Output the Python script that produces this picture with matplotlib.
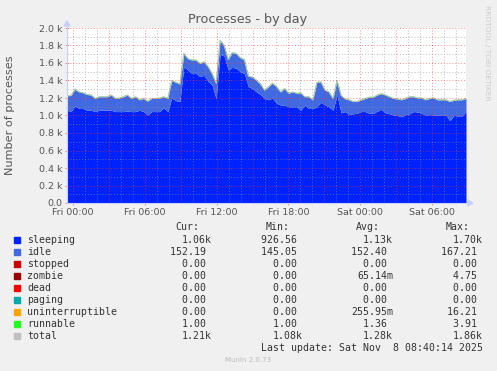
import numpy as np
from matplotlib import pyplot as plt

W, H = 497, 371

# samples every ~20 min (Thu 23:30 .. Sat 08:45)
total = [1225, 1230, 1300, 1270, 1260, 1240, 1235, 1195, 1215, 1215, 1215, 1235, 1195,
         1200, 1215, 1235, 1195, 1215, 1180, 1195, 1165, 1195, 1195, 1200, 1215,
         1195, 1400, 1380, 1360, 1710, 1650, 1635, 1635, 1595, 1615, 1560, 1480, 1370,
         1860, 1800, 1640, 1720, 1710, 1660, 1640, 1450, 1440, 1405, 1360, 1290,
         1330, 1370, 1330, 1270, 1310, 1255, 1270, 1255, 1260, 1215, 1215, 1180, 1380,
         1385, 1290, 1270, 1195, 1400, 1230, 1190, 1180, 1160, 1160, 1180, 1195,
         1210, 1210, 1235, 1250, 1235, 1215, 1195, 1190, 1180, 1195, 1215, 1215, 1200,
         1200, 1180, 1195, 1200, 1180, 1180, 1180, 1160, 1175, 1180, 1180, 1195]
sleeping = [1060, 1045, 1110, 1080, 1080, 1060, 1060, 1045, 1060, 1060, 1060, 1060, 1045,
            1045, 1045, 1050, 1045, 1045, 1060, 1045, 1005, 1045, 1045, 1045, 1090,
            1045, 1200, 1170, 1160, 1560, 1520, 1480, 1480, 1445, 1460, 1390, 1350, 1190,
            1700, 1680, 1520, 1550, 1540, 1500, 1480, 1330, 1310, 1270, 1240, 1195,
            1180, 1200, 1140, 1120, 1120, 1100, 1100, 1100, 1060, 1120, 1080, 1080, 1100,
            1150, 1120, 1100, 1060, 1235, 1030, 1045, 1010, 1020, 1025, 1045, 1045,
            1025, 1025, 1050, 1070, 1030, 1020, 1005, 1000, 985, 1010, 1020, 1045, 1040,
            1025, 1005, 1010, 1005, 1005, 1000, 1005, 940, 1000, 995, 995, 1045]
runnable = 1.0

names = ['sleeping', 'idle', 'stopped', 'zombie', 'dead', 'paging',
         'uninterruptible', 'runnable', 'total']
colors = ['#0022ff', '#4169e1', '#cc0000', '#990000', '#ff0000', '#00aaaa',
          '#ffa500', '#22ff22', '#c0c0c0']
cur = ['1.06k', '152.19 ', '0.00 ', '0.00 ', '0.00 ', '0.00 ', '0.00 ', '1.00 ', '1.21k']
mins = ['926.56 ', '145.05 ', '0.00 ', '0.00 ', '0.00 ', '0.00 ', '0.00 ', '1.00 ', '1.08k']
avgs = ['1.13k', '152.40 ', '0.00 ', '65.14m', '0.00 ', '0.00 ', '255.95m', '1.36 ', '1.28k']
maxs = ['1.70k', '167.21 ', '0.00 ', '4.75 ', '0.00 ', '0.00 ', '16.21 ', '3.91 ', '1.86k']

xticks = [0, 6, 12, 18, 24, 30]
xlabels = ['Fri 00:00', 'Fri 06:00', 'Fri 12:00', 'Fri 18:00', 'Sat 00:00', 'Sat 06:00']
yticks = [0, 200, 400, 600, 800, 1000, 1200, 1400, 1600, 1800, 2000]
ylabels = ['0.0', '0.2 k', '0.4 k', '0.6 k', '0.8 k', '1.0 k', '1.2 k', '1.4 k',
           '1.6 k', '1.8 k', '2.0 k']

x0, x1 = -0.5, 32.83
t = np.linspace(x0, x1, len(total))
tot = np.array(total, float)
slp = np.array(sleeping, float)
stack_top = tot - runnable

txt = '#555555'
fig = plt.figure(figsize=(W / 100, H / 100), dpi=100, facecolor='#f0f0f0')


def fx(x):
    return x / W


def fy(y):
    return 1 - y / H


ax = fig.add_axes([fx(67), fy(203), (466 - 67) / W, 175 / H])
ax.set_facecolor('white')
ax.set_xlim(x0, x1)
ax.set_ylim(0, 2000)

ax.fill_between(t, 0, slp, color=colors[0], lw=0, zorder=2)
ax.fill_between(t, slp, stack_top, color=colors[1], lw=0, zorder=2)
ax.plot(t, stack_top, color=colors[7], lw=0.5, zorder=3)
ax.plot(t, tot, color=colors[8], lw=0.7, zorder=4)

# rrdtool puts the (half transparent) grid on top of the data
for h in np.arange(0, 33, 1):
    if h % 3 == 0:
        ax.axvline(h, color='#ff3030', lw=0.7, ls=(0, (1, 2)), zorder=5, alpha=0.55)
    else:
        ax.axvline(h, color='#909090', lw=0.7, ls=(0, (1, 2)), zorder=5, alpha=0.6)
for v in range(100, 2001, 100):
    if v % 200 == 0:
        ax.axhline(v, color='#ff3030', lw=0.7, ls=(0, (1, 2)), zorder=5, alpha=0.55)
    else:
        ax.axhline(v, color='#909090', lw=0.7, ls=(0, (1, 2)), zorder=5, alpha=0.6)

for s in ax.spines.values():
    s.set_visible(False)
ax.set_xticks(xticks)
ax.set_xticklabels(xlabels)
ax.set_yticks(yticks)
ax.set_yticklabels(ylabels)
ax.set_xticks(np.arange(0, 33, 1), minor=True)
ax.set_yticks(range(100, 2000, 200), minor=True)
ax.tick_params(axis='both', which='major', length=2.5, width=0.6, color='#e08080',
               labelsize=6.8, labelcolor=txt, direction='inout', pad=2)
ax.tick_params(axis='both', which='minor', length=2, width=0.5, color='#c0c0c0',
               direction='inout')

# axes with arrows
axcol = '#c8d0ff'
fig.add_artist(plt.Line2D([fx(67), fx(67)], [fy(203), fy(26)], color=axcol, lw=0.8))
fig.add_artist(plt.Line2D([fx(67), fx(468)], [fy(203), fy(203)], color=axcol, lw=0.8))
fig.patches.append(plt.Polygon([[fx(64), fy(26)], [fx(70), fy(26)], [fx(67), fy(21)]],
                               closed=True, color=axcol, transform=fig.transFigure))
fig.patches.append(plt.Polygon([[fx(468), fy(200)], [fx(468), fy(206)], [fx(473), fy(203)]],
                               closed=True, color=axcol, transform=fig.transFigure))

fig.text(fx(248), fy(19), 'Processes - by day', ha='center', va='center',
         fontsize=9.2, color=txt)
fig.text(fx(10), fy(115), 'Number of processes', ha='center', va='center',
         rotation=90, fontsize=8.1, color=txt)
fig.text(fx(487), fy(5), 'RRDTOOL / TOBI OETIKER', ha='center', va='top',
         rotation=270, fontsize=5.4, color='#cccccc')

mono = dict(family='DejaVu Sans Mono', fontsize=7.15, color='#333333')
fig.text(fx(199), fy(227), 'Cur:', ha='right', va='center', **mono)
fig.text(fx(290), fy(227), 'Min:', ha='right', va='center', **mono)
fig.text(fx(380), fy(227), 'Avg:', ha='right', va='center', **mono)
fig.text(fx(470), fy(227), 'Max:', ha='right', va='center', **mono)
for i, n in enumerate(names):
    y = 240 + i * 12
    fig.patches.append(plt.Rectangle((fx(14), fy(y + 3)), 6 / W, 6 / H, color=colors[i],
                                     transform=fig.transFigure))
    fig.text(fx(27), fy(y), n, ha='left', va='center', **mono)
    fig.text(fx(212), fy(y), cur[i], ha='right', va='center', **mono)
    fig.text(fx(303), fy(y), mins[i], ha='right', va='center', **mono)
    fig.text(fx(393), fy(y), avgs[i], ha='right', va='center', **mono)
    fig.text(fx(483), fy(y), maxs[i], ha='right', va='center', **mono)
fig.text(fx(483), fy(348), 'Last update: Sat Nov  8 08:40:14 2025', ha='right',
         va='center', **mono)
fig.text(fx(248), fy(360), 'Munin 2.0.73', ha='center', va='center', fontsize=5,
         color='#bbbbbb')

fig.savefig('out.png', dpi=100, facecolor=fig.get_facecolor())
